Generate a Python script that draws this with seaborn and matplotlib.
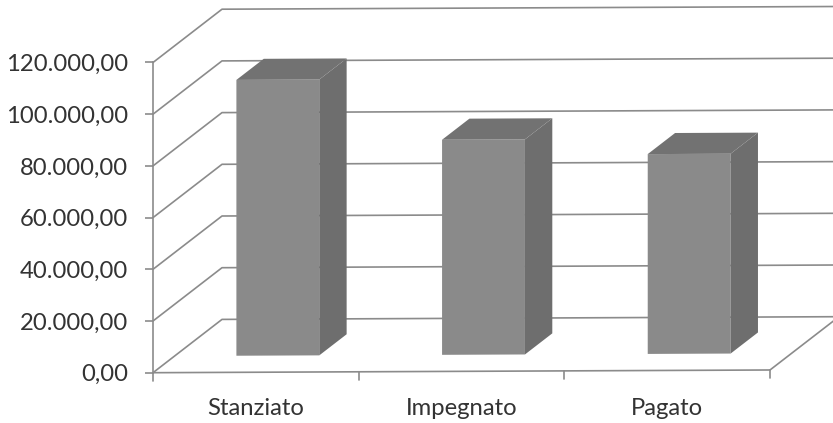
# plot.py
# Fake 3D bar chart, drawn with seaborn bars plus side and top faces

import matplotlib
matplotlib.use("Agg")
import matplotlib.pyplot as plt
from matplotlib.patches import Polygon
from matplotlib.transforms import Affine2D
import seaborn as sns

categories = ["Stanziato", "Impegnato", "Pagato"]
values = [106700, 83200, 77300]
y_ticks = [0, 20000, 40000, 60000, 80000, 100000, 120000]
y_labels = ["0,00", "20.000,00", "40.000,00", "60.000,00",
            "80.000,00", "100.000,00", "120.000,00"]

LINE = "#8b8b8b"
TEXT = "#333333"
FRONT = "#8a8a8a"
SIDE = "#6e6e6e"
TOP = "#727272"

# depth offsets, in data units
WALL_DX, WALL_DY = 0.3355, 20500
BAR_DX, BAR_DY = 0.107, 6420
FACE_DX, FACE_DY = 0.133, 8120

sns.set_style("white")
plt.rcParams["font.family"] = ["Lato", "DejaVu Sans"]

fig = plt.figure(figsize=(8.33, 4.23), dpi=100)
ax = fig.add_axes([153 / 833, 50.3 / 423, 617 / 833, 310.2 / 423])

sns.barplot(x=categories, y=values, color=FRONT, saturation=1, width=0.403,
            linewidth=0, ax=ax)
ax.set_xlim(-0.5, 2.5)
ax.set_ylim(0, 120000)
ax.patch.set_alpha(0)

# the scan is slightly sheared, horizontal lines climb to the right
tilt = ax.transData + Affine2D().from_values(1, 0.0044, 0, 1, 0, -0.0044 * 153)

for v in y_ticks:
    ax.plot([-0.5, -0.5 + WALL_DX, 3.2], [v, v + WALL_DY, v + WALL_DY],
            color=LINE, lw=1.2, clip_on=False, transform=tilt, zorder=1)

# floor: front edge and right edge
ax.plot([-0.5, 2.5, 2.5 + WALL_DX], [0, 0, WALL_DY], color=LINE, lw=1.2,
        clip_on=False, transform=tilt, zorder=1)
for b in [-0.5, 0.5, 1.5, 2.5]:
    ax.plot([b, b], [0, -3100], color=LINE, lw=1.2, clip_on=False, transform=tilt, zorder=1)

for bar in ax.patches:
    bar.set_x(bar.get_x() + BAR_DX)
    bar.set_y(BAR_DY)
    bar.set_transform(tilt)
    bar.set_zorder(3)
    bar.set_clip_on(False)
    x0, x1 = bar.get_x(), bar.get_x() + bar.get_width()
    y0, y1 = bar.get_y(), bar.get_y() + bar.get_height()
    side = [(x1, y0), (x1 + FACE_DX, y0 + FACE_DY), (x1 + FACE_DX, y1 + FACE_DY), (x1, y1)]
    top = [(x0, y1), (x1, y1), (x1 + FACE_DX, y1 + FACE_DY), (x0 + FACE_DX, y1 + FACE_DY)]
    ax.add_patch(Polygon(side, color=SIDE, lw=0, transform=tilt, zorder=3, clip_on=False))
    ax.add_patch(Polygon(top, color=TOP, lw=0, transform=tilt, zorder=3, clip_on=False))

sns.despine(ax=ax, top=True, right=True, bottom=True)
ax.spines["left"].set_color(LINE)
ax.spines["left"].set_linewidth(1.2)
ax.set_yticks(y_ticks, y_labels)
ax.tick_params(axis="y", length=6, width=1.2, color=LINE, labelsize=17.2,
               labelcolor=TEXT, pad=12, left=True)
ax.tick_params(axis="x", length=0, labelsize=17.2, labelcolor=TEXT, pad=18)

fig.savefig("out.png", dpi=100)
